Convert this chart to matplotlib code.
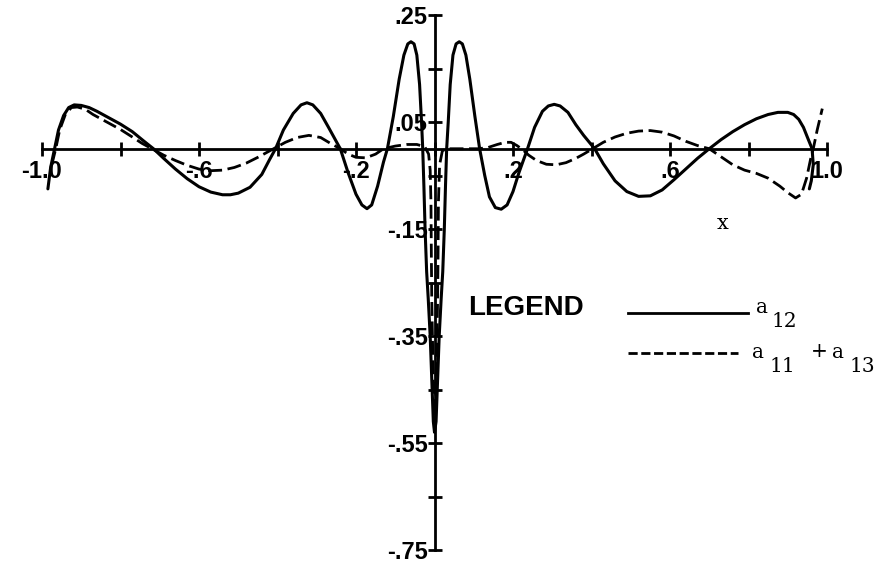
import matplotlib
matplotlib.use("Agg")
import matplotlib.pyplot as plt
from matplotlib.lines import Line2D
import numpy as np

# ---------------- data ----------------
a12_x = [-0.985, -0.978, -0.968, -0.958, -0.945, -0.932, -0.918, -0.90, -0.88, -0.86,
         -0.84, -0.80, -0.77, -0.74, -0.716, -0.69, -0.66, -0.63, -0.60, -0.57,
         -0.54, -0.52, -0.50, -0.47, -0.44, -0.42, -0.405, -0.385, -0.36, -0.34,
         -0.325, -0.31, -0.29, -0.27, -0.24, -0.22, -0.20, -0.185, -0.172, -0.16,
         -0.145, -0.13, -0.12, -0.105, -0.09, -0.078, -0.068, -0.06, -0.052, -0.045,
         -0.038, -0.033, -0.030, -0.027, -0.024, -0.020, -0.016, -0.011, -0.007, -0.003,
         0.0, 0.004, 0.008, 0.012, 0.017, 0.021, 0.025, 0.028, 0.031, 0.035,
         0.040, 0.047, 0.055, 0.063, 0.071, 0.080, 0.090, 0.103, 0.115, 0.128,
         0.140, 0.155, 0.170, 0.185, 0.200, 0.215, 0.237, 0.255, 0.275, 0.290,
         0.305, 0.320, 0.340, 0.360, 0.380, 0.408, 0.430, 0.460, 0.490, 0.520,
         0.550, 0.580, 0.610, 0.640, 0.670, 0.700, 0.730, 0.760, 0.790, 0.820,
         0.850, 0.875, 0.900, 0.915, 0.928, 0.940, 0.952, 0.962, 0.965, 0.960,
         0.955]
a12_y = [-0.075, -0.035, 0.0, 0.035, 0.062, 0.077, 0.082, 0.081, 0.077, 0.070,
         0.062, 0.046, 0.032, 0.014, 0.0, -0.018, -0.038, -0.056, -0.071, -0.081,
         -0.086, -0.086, -0.083, -0.072, -0.048, -0.020, 0.0, 0.035, 0.066, 0.082,
         0.086, 0.082, 0.066, 0.040, 0.0, -0.045, -0.085, -0.105, -0.112, -0.105,
         -0.070, -0.025, 0.0, 0.060, 0.130, 0.175, 0.196, 0.200, 0.196, 0.175,
         0.120, 0.050, 0.0, -0.070, -0.150, -0.230, -0.280, -0.350, -0.430, -0.510,
         -0.530, -0.510, -0.430, -0.350, -0.280, -0.230, -0.150, -0.070, 0.0, 0.050,
         0.120, 0.175, 0.196, 0.200, 0.196, 0.175, 0.130, 0.060, 0.0, -0.050,
         -0.090, -0.110, -0.113, -0.105, -0.080, -0.045, 0.0, 0.040, 0.070, 0.080,
         0.083, 0.080, 0.068, 0.045, 0.025, 0.0, -0.028, -0.060, -0.080, -0.089,
         -0.088, -0.077, -0.058, -0.038, -0.018, 0.0, 0.017, 0.032, 0.045, 0.056,
         0.064, 0.068, 0.068, 0.064, 0.055, 0.040, 0.018, 0.0, -0.030, -0.060,
         -0.075]

a11_13_x = [-0.975, -0.965, -0.955, -0.940, -0.925, -0.910, -0.890, -0.870, -0.840, -0.800,
            -0.770, -0.745, -0.720, -0.690, -0.660, -0.630, -0.600, -0.570, -0.540, -0.510,
            -0.480, -0.450, -0.410, -0.380, -0.350, -0.320, -0.290, -0.265, -0.240, -0.220,
            -0.200, -0.175, -0.150, -0.130, -0.100, -0.070, -0.045, -0.025, -0.015, -0.011,
            -0.009, -0.008, -0.007, -0.005, -0.003, -0.001, 0.002, 0.004, 0.006, 0.008,
            0.009, 0.010, 0.013, 0.020, 0.030, 0.050, 0.080, 0.110, 0.135, 0.160,
            0.180, 0.195, 0.210, 0.225, 0.240, 0.260, 0.285, 0.310, 0.335, 0.360,
            0.380, 0.403, 0.430, 0.460, 0.490, 0.520, 0.550, 0.580, 0.610, 0.640,
            0.670, 0.700, 0.730, 0.760, 0.790, 0.820, 0.850, 0.880, 0.900, 0.920,
            0.935, 0.948, 0.958, 0.965, 0.975, 0.988]
a11_13_y = [-0.030, 0.0, 0.035, 0.065, 0.077, 0.078, 0.074, 0.064, 0.052, 0.036,
            0.022, 0.010, 0.0, -0.012, -0.022, -0.031, -0.038, -0.041, -0.040, -0.035,
            -0.027, -0.016, 0.0, 0.012, 0.021, 0.025, 0.021, 0.010, 0.0, -0.010,
            -0.016, -0.017, -0.010, 0.0, 0.005, 0.008, 0.008, 0.004, -0.010, -0.040,
            -0.100, -0.200, -0.280, -0.360, -0.440, -0.500, -0.500, -0.440, -0.360, -0.280,
            -0.200, -0.100, -0.030, -0.004, 0.0, 0.0, 0.0, 0.0, 0.002, 0.008,
            0.012, 0.012, 0.006, -0.002, -0.012, -0.022, -0.029, -0.030, -0.026, -0.018,
            -0.010, 0.0, 0.012, 0.022, 0.029, 0.033, 0.034, 0.031, 0.024, 0.014,
            0.006, 0.0, -0.015, -0.030, -0.040, -0.046, -0.055, -0.070, -0.082, -0.092,
            -0.085, -0.055, -0.020, 0.0, 0.035, 0.075]

x_ticks = [-1.0, -0.8, -0.6, -0.4, -0.2, 0.0, 0.2, 0.4, 0.6, 0.8, 1.0]
x_tick_labels = ["-1.0", "", "-.6", "", "-.2", "", ".2", "", ".6", "", "1.0"]
y_ticks = [0.25, 0.15, 0.05, -0.05, -0.15, -0.25, -0.35, -0.45, -0.55, -0.65, -0.75]
y_tick_labels = [".25", "", ".05", "", "-.15", "", "-.35", "", "-.55", "", "-.75"]

# ---------------- figure ----------------
W, H = 889, 573
fig = plt.figure(figsize=(W / 100, H / 100), dpi=100)

def fx(px):
    return px / W

def fy(py):
    return 1 - py / H

ax_left, ax_right, ax_top, ax_bottom = 42, 827, 15, 550
ax = fig.add_axes([fx(ax_left), fy(ax_bottom), (ax_right - ax_left) / W,
                   (ax_bottom - ax_top) / H])
ax.set_xlim(-1.0, 1.0)
ax.set_ylim(-0.75, 0.25)
ax.patch.set_visible(False)

for s in ("top", "right"):
    ax.spines[s].set_visible(False)
ax.spines["left"].set_position(("data", 0))
ax.spines["bottom"].set_position(("data", 0))
ax.spines["left"].set_linewidth(2.0)
ax.spines["bottom"].set_linewidth(2.0)

lab_font = dict(family=["Liberation Sans", "DejaVu Sans"], weight="bold", size=17)
ax.set_xticks(x_ticks)
ax.set_xticklabels(x_tick_labels, **lab_font)
ax.set_yticks(y_ticks)
ax.set_yticklabels(y_tick_labels, **lab_font)
ax.tick_params(axis="both", direction="inout", length=10, width=2.0, color="black")
ax.tick_params(axis="x", pad=3)
ax.tick_params(axis="y", pad=0)

ax.plot(a12_x, a12_y, color="black", lw=2.2, solid_joinstyle="round",
        solid_capstyle="round", zorder=3)
ax.plot(a11_13_x, a11_13_y, color="black", lw=2.0, ls=(0, (5, 2)), zorder=3)

# axis label
fig.text(fx(723), fy(223), "x", family="DejaVu Serif", size=15,
         ha="center", va="center")

# legend (hand-made)
fig.text(fx(468), fy(315), "LEGEND", family=["Liberation Sans", "DejaVu Sans"],
         weight="bold", size=20, ha="left", va="baseline")
fig.add_artist(Line2D([fx(628), fx(748)], [fy(313), fy(313)], color="black",
                      lw=2.0, transform=fig.transFigure))
fig.add_artist(Line2D([fx(628), fx(738)], [fy(353), fy(353)], color="black",
                      lw=2.0, ls=(0, (3.3, 1.3)), transform=fig.transFigure))

ser = dict(family="DejaVu Serif", size=14.5, va="baseline", ha="left")
fig.text(fx(756), fy(313), "a", **ser)
fig.text(fx(772), fy(327), "12", **ser)
fig.text(fx(752), fy(358), "a", **ser)
fig.text(fx(769), fy(372), "11", **ser)
fig.text(fx(811), fy(357), "+", **ser)
fig.text(fx(832), fy(358), "a", **ser)
fig.text(fx(850), fy(372), "13", **ser)

fig.savefig("out.png", dpi=100)
